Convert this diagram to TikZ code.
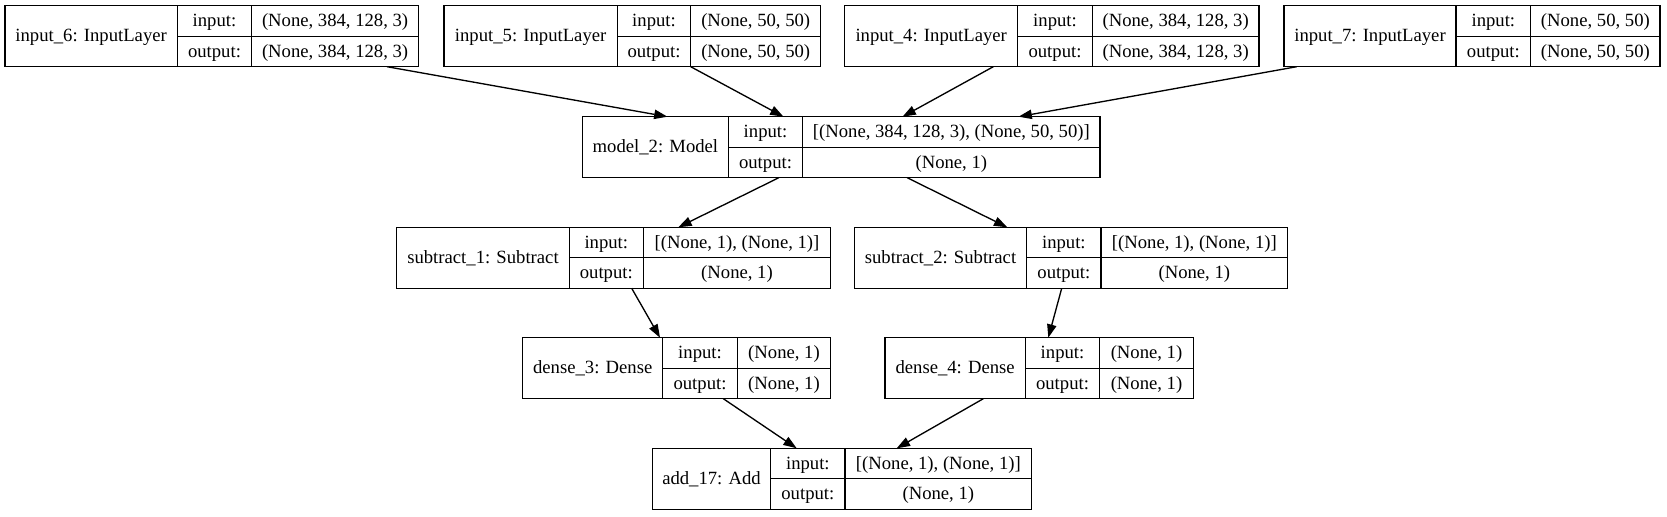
\documentclass[tikz,border=0pt]{standalone}
\usepackage{fontspec}
\setmainfont{Liberation Serif}
\usetikzlibrary{arrows.meta,calc,fit}
\tikzset{
  frame/.style={inner sep=0pt, outer sep=0pt},
  cellline/.style={line width=1bp},
  lbl/.style={font=\fontsize{14bp}{16bp}\selectfont, inner sep=0pt, text height=10bp, text depth=1.6bp},
  arr/.style={line width=1bp, -{Triangle[length=10bp,width=7bp]}}
}
% #1 name, #2 left, #3 col1, #4 col2, #5 right, #6 top, #7 title, #8 in, #9 out
\newcommand\lyr[9]{%
  \coordinate (#1-nw) at (#2,#6);
  \coordinate (#1-se) at (#5,#6+61);
  \node[frame, fit=(#1-nw)(#1-se)] (#1) {};
  \draw[cellline] (#1-nw) rectangle (#1-se);
  \draw[cellline] (#3,#6) -- (#3,#6+61);
  \draw[cellline] (#4,#6) -- (#4,#6+61);
  \draw[cellline] (#3,#6+30.5) -- (#5,#6+30.5);
  \node[lbl] (#1-t) at ({(#2+#3)/2},#6+30.5) {#7};
  \node[lbl] (#1-il) at ({(#3+#4)/2},#6+15.25) {input:};
  \node[lbl] (#1-ol) at ({(#3+#4)/2},#6+45.75) {output:};
  \node[lbl] (#1-iv) at ({(#4+#5)/2},#6+15.25) {#8};
  \node[lbl] (#1-ov) at ({(#4+#5)/2},#6+45.75) {#9};
}
\begin{document}
\begin{tikzpicture}[x=0.75bp, y=-0.75bp]
\path[use as bounding box] (0,0) rectangle (1667,516);
\lyr{in6}{5}{177.3}{251.7}{418.5}{5.7}{input\_6: InputLayer}{(None, 384, 128, 3)}{(None, 384, 128, 3)}
\lyr{in5}{444}{617.3}{690.7}{820.7}{5.7}{input\_5: InputLayer}{(None, 50, 50)}{(None, 50, 50)}
\lyr{in4}{844.7}{1017.7}{1092.3}{1259}{5.7}{input\_4: InputLayer}{(None, 384, 128, 3)}{(None, 384, 128, 3)}
\lyr{in7}{1284}{1456}{1530.7}{1660}{5.7}{input\_7: InputLayer}{(None, 50, 50)}{(None, 50, 50)}
\lyr{mod}{582.5}{728.3}{802.7}{1100}{116.7}{model\_2: Model}{[(None, 384, 128, 3), (None, 50, 50)]}{(None, 1)}
\lyr{sub1}{396.7}{569.3}{643.3}{830.7}{227.3}{subtract\_1: Subtract}{[(None, 1), (None, 1)]}{(None, 1)}
\lyr{sub2}{854.3}{1026.7}{1101}{1287.7}{227.3}{subtract\_2: Subtract}{[(None, 1), (None, 1)]}{(None, 1)}
\lyr{den3}{522.7}{662.7}{737.3}{830.7}{337.7}{dense\_3: Dense}{(None, 1)}{(None, 1)}
\lyr{den4}{885}{1025.3}{1099.7}{1193.3}{337.7}{dense\_4: Dense}{(None, 1)}{(None, 1)}
\lyr{add}{652.3}{770.7}{845}{1031.7}{448.3}{add\_17: Add}{[(None, 1), (None, 1)]}{(None, 1)}

\draw[arr] ($(in6.south west)+(382,0)$) -- ($(mod.north west)+(85,0)$);
\draw[arr] ($(in5.south west)+(246.7,0)$) -- ($(mod.north west)+(201,0)$);
\draw[arr] ($(in4.south west)+(148.6,0)$) -- ($(mod.north west)+(320,0)$);
\draw[arr] ($(in7.south west)+(12.7,0)$) -- ($(mod.north west)+(436,0)$);
\draw[arr] ($(mod.south west)+(196.3,0)$) -- ($(sub1.north west)+(281.6,0)$);
\draw[arr] ($(mod.south west)+(324.7,0)$) -- ($(sub2.north west)+(153,0)$);
\draw[arr] ($(sub1.south west)+(235,0)$) -- ($(den3.north west)+(137.3,0)$);
\draw[arr] ($(sub2.south west)+(207.4,0)$) -- ($(den4.north west)+(163.3,0)$);
\draw[arr] ($(den3.south west)+(200.6,0)$) -- ($(add.north west)+(144.4,0)$);
\draw[arr] ($(den4.south west)+(98.3,0)$) -- ($(add.north west)+(244.4,0)$);
\end{tikzpicture}
\end{document}
